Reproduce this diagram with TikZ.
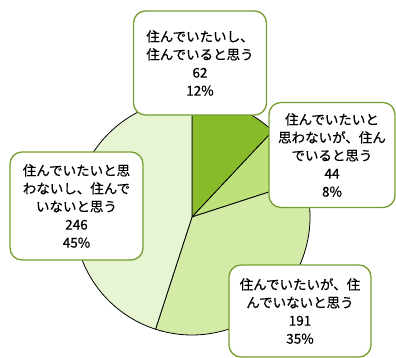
\documentclass[tikz,border=0pt]{standalone}
\usepackage{fontspec}
\setmainfont{Noto Sans CJK JP}
\newfontfamily\lblfont{Noto Sans CJK JP}[FakeBold=0.6]
\usetikzlibrary{positioning}
\definecolor{pieA}{RGB}{136,187,42}
\definecolor{pieB}{RGB}{190,226,122}
\definecolor{pieC}{RGB}{212,235,167}
\definecolor{pieD}{RGB}{231,245,211}
\definecolor{boxgreen}{RGB}{118,158,48}

\begin{document}
\begin{tikzpicture}[x=1pt,y=1pt,node distance=0pt,on grid,
      lbl/.style={draw=boxgreen, line width=1.3pt, fill=white, rounded corners=12pt,
        align=center, inner sep=0pt, font=\lblfont\fontsize{13.5}{18}\selectfont},
      wedge/.style={draw=black, line width=0.8pt}]

      \useasboundingbox (0,0) rectangle (396,358);
      \coordinate (c) at (192,141);

      % pie slices, clockwise from the top
      \filldraw[wedge, fill=pieA] (c) -- ++(90:118) arc (90:46.8:118) -- cycle;
      \filldraw[wedge, fill=pieB] (c) -- ++(46.8:118) arc (46.8:18:118) -- cycle;
      \filldraw[wedge, fill=pieC] (c) -- ++(18:118) arc (18:-108:118) -- cycle;
      \filldraw[wedge, fill=pieD] (c) -- ++(-108:118) arc (-108:-270:118) -- cycle;

      % data labels
      \node[lbl, minimum width=133pt, minimum height=104pt] (lab0) [above right=154pt and 8pt of c, anchor=center]
        {住んでいたいし、\\住んでいると思う\\62\\12\%};
      \node[lbl, minimum width=126pt, minimum height=105pt] (lab1) [above right=62pt and 140pt of c, anchor=center]
        {住んでいたいと\\思わないが、住ん\\でいると思う\\44\\8\%};
      \node[lbl, minimum width=142pt, minimum height=92pt] (lab2) [below right=94pt and 108pt of c, anchor=center]
        {住んでいたいが、住\\んでいないと思う\\191\\35\%};
      \node[lbl, minimum width=133pt, minimum height=108pt] (lab3) [above left=11pt and 115.5pt of c, anchor=center]
        {住んでいたいと思\\わないし、住んで\\いないと思う\\246\\45\%};

    \end{tikzpicture}
\end{document}
